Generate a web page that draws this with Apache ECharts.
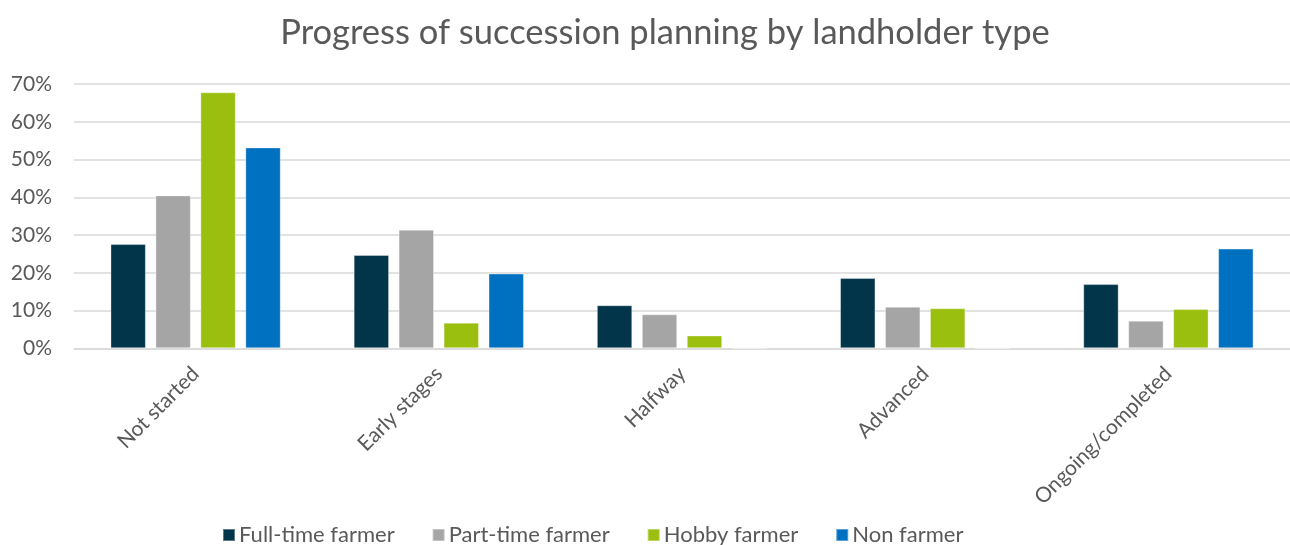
<!DOCTYPE html>
<html>
<head>
<meta charset="utf-8">
<script src="https://cdn.jsdelivr.net/npm/echarts@6/dist/echarts.min.js"></script>
<style>
  html, body { margin: 0; padding: 0; background: #ffffff; }
  #chart { width: 1290px; height: 545px; }
</style>
</head>
<body>
<div id="chart"></div>
<script>
// Succession planning stages (x axis)
const categories = ['Not started', 'Early stages', 'Halfway', 'Advanced', 'Ongoing/completed'];

// Share of landholders at each stage, in percent
const fullTimeFarmer = [27.6, 24.7, 11.4, 18.6, 17.0];
const partTimeFarmer = [40.5, 31.4, 9.0, 11.0, 7.3];
const hobbyFarmer    = [67.8, 6.8, 3.4, 10.6, 10.4];
const nonFarmer      = [53.2, 19.8, 0, 0, 26.4];

const seriesNames = ['Full-time farmer', 'Part-time farmer', 'Hobby farmer', 'Non farmer'];
const seriesColors = ['#02354A', '#A5A5A5', '#9BBF0E', '#0070C0'];
const seriesData = [fullTimeFarmer, partTimeFarmer, hobbyFarmer, nonFarmer];

const FONT = 'Lato, "Open Sans", sans-serif';
const TEXT = '#595959';

const chart = echarts.init(document.getElementById('chart'), null, { renderer: 'canvas' });

chart.setOption({
  animation: false,
  backgroundColor: '#ffffff',
  title: {
    text: 'Progress of succession planning by landholder type',
    left: 660,
    textAlign: 'center',
    top: 10,
    textStyle: { fontFamily: FONT, fontSize: 34.5, fontWeight: 'normal', color: TEXT }
  },
  legend: {
    data: seriesNames,
    left: 217,
    top: 519,
    icon: 'rect',
    itemWidth: 12,
    itemHeight: 12,
    itemGap: 37,
    textStyle: { fontFamily: FONT, fontSize: 22, color: TEXT, padding: [0, 0, 0, -1] }
  },
  grid: { left: 74, top: 84, width: 1225, height: 264.3, containLabel: false },
  xAxis: {
    type: 'category',
    data: categories,
    axisTick: { show: false },
    axisLine: { show: true, lineStyle: { color: '#D9D9D9', width: 1.5 } },
    axisLabel: {
      rotate: 45,
      margin: 22,
      fontFamily: FONT,
      fontSize: 21,
      color: TEXT
    }
  },
  yAxis: {
    type: 'value',
    min: 0,
    max: 70,
    interval: 10,
    axisLine: { show: false },
    axisTick: { show: false },
    splitLine: { lineStyle: { color: '#D9D9D9', width: 1.5 } },
    axisLabel: {
      formatter: v => v + '%',
      margin: 22,
      fontFamily: FONT,
      fontSize: 21,
      color: TEXT
    }
  },
  series: seriesNames.map((name, i) => ({
    name,
    type: 'bar',
    data: seriesData[i],
    barWidth: 35.4,
    barGap: '27%',
    itemStyle: {
      color: seriesColors[i],
      borderColor: 'rgba(255,255,255,0.35)',
      borderWidth: 1
    }
  }))
});
</script>
</body>
</html>
